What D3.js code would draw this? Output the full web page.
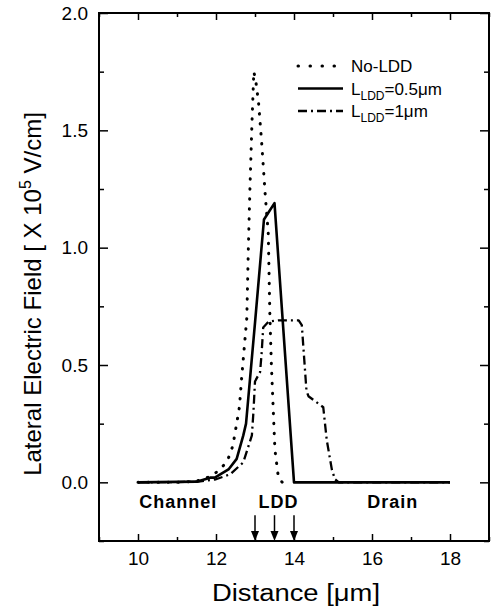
<!DOCTYPE html>
<html>
<head>
<meta charset="utf-8">
<script src="https://cdn.jsdelivr.net/npm/d3@7"></script>
<style>
  body { margin: 0; background: #fff; }
  svg { display: block; font-family: "Liberation Sans", Arial, sans-serif; }
</style>
</head>
<body>
<svg width="494" height="607"></svg>
<script>
// values (distance in um, field in 1e5 V/cm)
var noLddX = [10, 11, 11.5, 11.89, 12.1, 12.29, 12.43, 12.53, 12.6, 12.66, 12.79, 12.83, 12.87, 12.92, 12.97, 13.02, 13.09, 13.17, 13.26, 13.34, 13.38, 13.42, 13.47, 13.51, 13.6, 13.7];
var noLddY = [0, 0, 0.005, 0.027, 0.055, 0.09, 0.155, 0.25, 0.32, 0.45, 0.7, 1.0, 1.25, 1.52, 1.75, 1.71, 1.62, 1.45, 1.23, 1.06, 0.72, 0.5, 0.3, 0.14, 0.02, 0];

var ldd05X = [10, 11.5, 11.85, 11.97, 12.32, 12.53, 12.7, 12.77, 13.0, 13.23, 13.5, 14.0, 18];
var ldd05Y = [0, 0.003, 0.02, 0.02, 0.055, 0.1, 0.2, 0.25, 0.68, 1.12, 1.19, 0, 0];

var ldd1X = [10, 11.5, 12.0, 12.36, 12.7, 12.92, 12.96, 13.0, 13.13, 13.17, 13.21, 13.35, 13.6, 14.12, 14.2, 14.32, 14.37, 14.75, 14.84, 14.97, 15.05, 15.15, 18];
var ldd1Y = [0, 0.002, 0.013, 0.034, 0.085, 0.2, 0.3, 0.43, 0.47, 0.55, 0.66, 0.685, 0.69, 0.69, 0.67, 0.39, 0.367, 0.32, 0.18, 0.055, 0.013, 0, 0];

var xMajor = [10, 12, 14, 16, 18];
var xMinor = [9, 11, 13, 15, 17, 19];
var yMajor = [0, 0.5, 1.0, 1.5, 2.0];
var yMinor = [-0.25, 0.25, 0.75, 1.25, 1.75];

var regionNames = ["Channel", "LDD", "Drain"];
var regionAt = [11.03, 13.6, 16.53];
var arrowAt = [13, 13.5, 14];

var legendNames = ["No-LDD", "0.5\u03bcm", "1\u03bcm"];

var svg = d3.select("svg"),
    margin = {top: 13, right: 5, bottom: 66, left: 99},
    width = 494 - margin.left - margin.right,
    height = 607 - margin.top - margin.bottom;

var g = svg.append("g").attr("transform", "translate(" + margin.left + "," + margin.top + ")");

var x = d3.scaleLinear().domain([9, 19]).range([0, width]);
var y = d3.scaleLinear().domain([-0.25, 2.0]).range([height, 0]);

function styleAxis(sel) {
  sel.select(".domain").remove();
  sel.selectAll("line").attr("stroke", "#000").attr("stroke-width", 1.5);
  sel.selectAll("text").attr("fill", "#000").attr("font-size", 19).attr("font-family", null);
}

// bottom
g.append("g").attr("transform", "translate(0," + height + ")")
  .call(d3.axisBottom(x).tickValues(xMajor).tickSize(-7).tickPadding(11).tickFormat(d3.format("d")))
  .call(styleAxis);
g.append("g").attr("transform", "translate(0," + height + ")")
  .call(d3.axisBottom(x).tickValues(xMinor).tickSize(-4).tickFormat(""))
  .call(styleAxis);
// top
g.append("g").call(d3.axisTop(x).tickValues(xMajor).tickSize(-7).tickFormat("")).call(styleAxis);
g.append("g").call(d3.axisTop(x).tickValues(xMinor).tickSize(-4).tickFormat("")).call(styleAxis);
// left
g.append("g")
  .call(d3.axisLeft(y).tickValues(yMajor).tickSize(-9).tickPadding(11).tickFormat(d3.format(".1f")))
  .call(styleAxis);
g.append("g").call(d3.axisLeft(y).tickValues(yMinor).tickSize(-5).tickFormat("")).call(styleAxis);
// right
g.append("g").attr("transform", "translate(" + width + ",0)")
  .call(d3.axisRight(y).tickValues(yMajor).tickSize(-9).tickFormat("")).call(styleAxis);
g.append("g").attr("transform", "translate(" + width + ",0)")
  .call(d3.axisRight(y).tickValues(yMinor).tickSize(-5).tickFormat("")).call(styleAxis);

g.append("rect")
  .attr("width", width).attr("height", height)
  .attr("fill", "none").attr("stroke", "#000").attr("stroke-width", 2);

var line = d3.line().x(function(d) { return x(d[0]); }).y(function(d) { return y(d[1]); });

var series = [
  {xs: noLddX, ys: noLddY, dash: "0.5,9.5", w: 3, cap: "round"},
  {xs: ldd05X, ys: ldd05Y, dash: null, w: 2.6, cap: "butt"},
  {xs: ldd1X, ys: ldd1Y, dash: "9,4,2,4", w: 2.3, cap: "butt"}
];

series.forEach(function(s) {
  g.append("path")
    .datum(d3.zip(s.xs, s.ys))
    .attr("d", line)
    .attr("fill", "none")
    .attr("stroke", "#000")
    .attr("stroke-width", s.w)
    .attr("stroke-linecap", s.cap)
    .attr("stroke-linejoin", "round")
    .attr("stroke-dasharray", s.dash);
});

// region labels
g.selectAll(".region")
  .data(regionNames)
  .enter().append("text")
    .attr("x", function(d, i) { return x(regionAt[i]); })
    .attr("y", y(-0.11))
    .attr("text-anchor", "middle")
    .attr("font-size", 18)
    .attr("font-weight", "bold")
    .attr("letter-spacing", 1)
    .text(function(d) { return d; });

// arrows
arrowAt.forEach(function(a) {
  var ax = x(a), y0 = y(-0.14), y1 = height;
  g.append("line").attr("x1", ax).attr("x2", ax).attr("y1", y0).attr("y2", y1 - 6)
    .attr("stroke", "#000").attr("stroke-width", 1.5);
  g.append("path")
    .attr("d", "M" + (ax - 4) + "," + (y1 - 10) + "L" + (ax + 4) + "," + (y1 - 10) + "L" + ax + "," + y1 + "Z")
    .attr("fill", "#000");
});

// legend
var leg = g.append("g").attr("transform", "translate(" + (298 - margin.left) + "," + (66 - margin.top) + ")");
legendNames.forEach(function(name, i) {
  var s = series[i], ly = i * 22.5;
  leg.append("line")
    .attr("x1", 0).attr("x2", i === 0 ? 37 : 45).attr("y1", ly).attr("y2", ly)
    .attr("stroke", "#000").attr("stroke-width", s.w)
    .attr("stroke-linecap", s.cap)
    .attr("stroke-dasharray", i === 0 ? "0.5,11.5" : s.dash);
  var t = leg.append("text").attr("x", 53).attr("y", ly + 6).attr("font-size", 17);
  if (i === 0) {
    t.text(name);
  } else {
    t.append("tspan").text("L");
    t.append("tspan").attr("font-size", 12).attr("dy", 5).text("LDD");
    t.append("tspan").attr("dy", -5).text("=" + name);
  }
});

// axis titles
svg.append("text")
  .attr("x", 296).attr("y", 601)
  .attr("text-anchor", "middle")
  .attr("font-size", 23)
  .attr("textLength", 168).attr("lengthAdjust", "spacingAndGlyphs")
  .text("Distance [\u03bcm]");

var yt = svg.append("text")
  .attr("transform", "translate(41,294) rotate(-90)")
  .attr("text-anchor", "middle")
  .attr("font-size", 24);
yt.append("tspan").text("Lateral Electric Field [ X 10");
yt.append("tspan").attr("font-size", 16).attr("dy", -10).text("5");
yt.append("tspan").attr("dy", 10).text(" V/cm]");
</script>
</body>
</html>
